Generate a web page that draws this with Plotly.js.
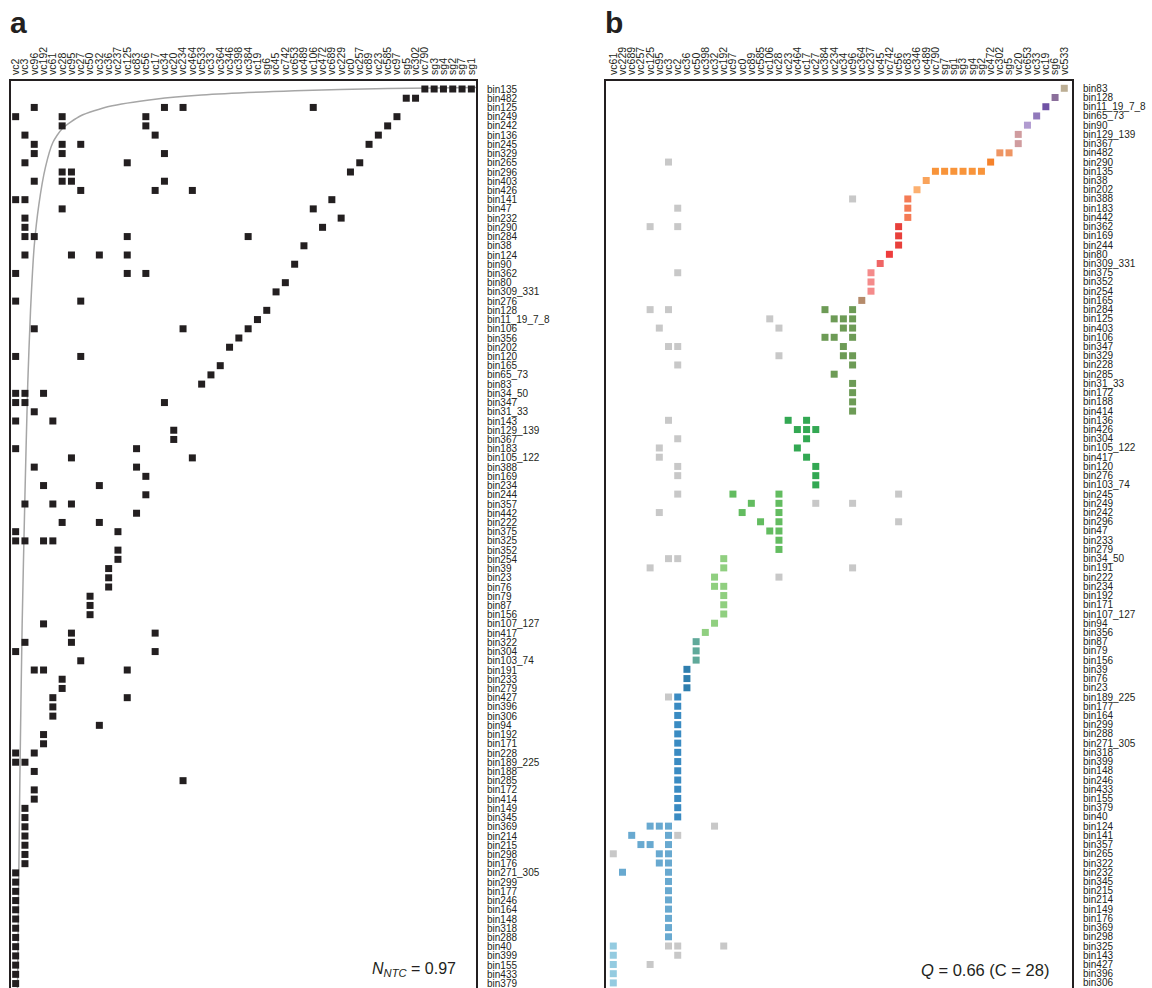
<!DOCTYPE html>
<html>
<head>
<meta charset="utf-8">
<script src="https://cdn.plot.ly/plotly-3.0.1.min.js"></script>
<style>
html,body{margin:0;padding:0;overflow:hidden;background:#fff;}
#chart{width:1152px;height:995px;}
</style>
</head>
<body>
<div id="chart"></div>
<script>
// Panel a: nested ordering (row labels as printed)
const rowsA = ["bin135","bin482","bin125","bin249","bin242","bin136","bin245","bin329","bin265","bin296","bin403","bin426","bin141","bin47","bin232","bin290","bin284","bin38","bin124","bin90","bin362","bin80","bin309_331","bin276","bin128","bin11_19_7_8","bin106","bin356","bin202","bin120","bin165","bin65_73","bin83","bin34_50","bin347","bin31_33","bin143","bin129_139","bin367","bin183","bin105_122","bin388","bin169","bin234","bin244","bin357","bin442","bin222","bin375","bin325","bin352","bin254","bin39","bin23","bin76","bin79","bin87","bin156","bin107_127","bin417","bin322","bin304","bin103_74","bin191","bin233","bin279","bin427","bin396","bin306","bin94","bin192","bin171","bin228","bin189_225","bin188","bin285","bin172","bin414","bin149","bin345","bin369","bin214","bin215","bin298","bin176","bin271_305","bin299","bin177","bin246","bin164","bin148","bin318","bin288","bin40","bin399","bin155","bin433","bin379"];
// Panel a: whose interaction profile is drawn in each row (as seen in the matrix)
const rowContentA = ["bin135","bin482","bin125","bin245","bin296","bin136","bin249","bin329","bin357","bin242","bin403","bin426","bin141","bin47","bin232","bin290","bin284","bin38","bin124","bin90","bin362","bin80","bin309_331","bin276","bin128","bin11_19_7_8","bin106","bin356","bin202","bin120","bin165","bin65_73","bin83","bin34_50","bin347","bin31_33","bin143","bin129_139","bin367","bin183","bin105_122","bin388","bin169","bin234","bin244","bin265","bin442","bin222","bin375","bin325","bin352","bin254","bin39","bin23","bin76","bin79","bin87","bin156","bin107_127","bin417","bin322","bin304","bin103_74","bin191","bin233","bin279","bin427","bin396","bin306","bin94","bin192","bin171","bin228","bin189_225","bin188","bin285","bin172","bin414","bin149","bin345","bin369","bin214","bin215","bin298","bin176","bin271_305","bin299","bin177","bin246","bin164","bin148","bin318","bin288","bin40","bin399","bin155","bin433","bin379"];
const colsA = ["vc2","vc3","vc96","vc192","vc61","vc28","vc95","vc27","vc50","vc32","vc36","vc237","vc125","vc83","vc56","vc17","vc34","vc20","vc234","vc464","vc533","vc33","vc364","vc346","vc398","vc384","vc19","sg6","vc45","vc742","vc653","vc489","vc106","vc472","vc689","vc229","vc0","vc257","vc89","vc23","vc585","vc97","sg5","vc302","vc790","sg3","sg4","sg2","sg7","sg1"];

// Panel b: modular ordering
const rowsB = ["bin83","bin128","bin11_19_7_8","bin65_73","bin90","bin129_139","bin367","bin482","bin290","bin135","bin38","bin202","bin388","bin183","bin442","bin362","bin169","bin244","bin80","bin309_331","bin375","bin352","bin254","bin165","bin284","bin125","bin403","bin106","bin347","bin329","bin228","bin285","bin31_33","bin172","bin188","bin414","bin136","bin426","bin304","bin105_122","bin417","bin120","bin276","bin103_74","bin245","bin249","bin242","bin296","bin47","bin233","bin279","bin34_50","bin191","bin222","bin234","bin192","bin171","bin107_127","bin94","bin356","bin87","bin79","bin156","bin39","bin76","bin23","bin189_225","bin177","bin164","bin299","bin288","bin271_305","bin318","bin399","bin148","bin246","bin433","bin155","bin379","bin40","bin124","bin141","bin357","bin265","bin322","bin232","bin345","bin215","bin214","bin149","bin176","bin369","bin298","bin325","bin143","bin427","bin396","bin306"];
const colsB = ["vc61","vc229","vc689","vc257","vc125","vc95","vc3","vc2","vc36","vc50","vc398","vc32","vc192","vc97","vc0","vc89","vc585","vc106","vc28","vc23","vc464","vc17","vc27","vc384","vc234","vc34","vc96","vc364","vc237","vc45","vc742","vc56","vc83","vc346","vc489","vc790","sg7","sg1","sg3","sg4","sg2","vc472","vc302","sg5","vc20","vc653","vc33","vc19","sg6","vc533"];

// links: [bin, phage, module] ; module -1 = link between modules (grey)
const links = [
["bin83","vc533",0],
["bin128","sg6",1],
["bin11_19_7_8","vc19",2],
["bin65_73","vc33",3],
["bin90","vc653",4],
["bin129_139","vc20",5],["bin367","vc20",5],
["bin482","vc302",6],["bin482","sg5",6],
["bin290","vc3",-1],["bin290","vc472",7],
["bin135","vc790",8],["bin135","sg7",8],["bin135","sg1",8],["bin135","sg3",8],["bin135","sg4",8],["bin135","sg2",8],
["bin38","vc489",9],
["bin202","vc346",10],
["bin388","vc96",-1],["bin388","vc83",11],
["bin183","vc2",-1],["bin183","vc83",11],
["bin442","vc83",11],
["bin362","vc125",-1],["bin362","vc2",-1],["bin362","vc56",12],
["bin169","vc56",12],["bin244","vc56",12],
["bin80","vc742",13],
["bin309_331","vc45",14],
["bin375","vc2",-1],["bin375","vc237",15],
["bin352","vc237",15],["bin254","vc237",15],
["bin165","vc364",16],
["bin284","vc125",-1],["bin284","vc3",-1],["bin284","vc384",17],["bin284","vc96",17],
["bin125","vc106",-1],["bin125","vc234",17],["bin125","vc34",17],["bin125","vc96",17],
["bin403","vc95",-1],["bin403","vc28",-1],["bin403","vc34",17],["bin403","vc96",17],
["bin106","vc384",17],["bin106","vc234",17],["bin106","vc96",17],
["bin347","vc3",-1],["bin347","vc2",-1],["bin347","vc34",17],
["bin329","vc28",-1],["bin329","vc34",17],["bin329","vc96",17],
["bin228","vc2",-1],["bin228","vc96",17],
["bin285","vc234",17],
["bin31_33","vc96",17],["bin172","vc96",17],["bin188","vc96",17],["bin414","vc96",17],
["bin136","vc3",-1],["bin136","vc23",18],["bin136","vc17",18],
["bin426","vc464",18],["bin426","vc17",18],["bin426","vc27",18],
["bin304","vc2",-1],["bin304","vc17",18],
["bin105_122","vc95",-1],["bin105_122","vc464",18],
["bin417","vc95",-1],["bin417","vc17",18],
["bin120","vc2",-1],["bin120","vc27",18],
["bin276","vc2",-1],["bin276","vc27",18],
["bin103_74","vc27",18],
["bin245","vc2",-1],["bin245","vc56",-1],["bin245","vc97",19],["bin245","vc28",19],
["bin249","vc27",-1],["bin249","vc96",-1],["bin249","vc89",19],["bin249","vc28",19],
["bin242","vc95",-1],["bin242","vc0",19],["bin242","vc28",19],
["bin296","vc56",-1],["bin296","vc585",19],["bin296","vc28",19],
["bin47","vc106",19],["bin47","vc28",19],
["bin233","vc28",19],["bin279","vc28",19],
["bin34_50","vc3",-1],["bin34_50","vc2",-1],["bin34_50","vc192",20],
["bin191","vc125",-1],["bin191","vc96",-1],["bin191","vc192",20],
["bin222","vc28",-1],["bin222","vc32",20],
["bin234","vc32",20],["bin234","vc192",20],
["bin192","vc192",20],["bin171","vc192",20],["bin107_127","vc192",20],
["bin94","vc32",20],
["bin356","vc398",20],
["bin87","vc50",21],["bin79","vc50",21],["bin156","vc50",21],
["bin39","vc36",22],["bin76","vc36",22],["bin23","vc36",22],
["bin189_225","vc3",-1],["bin189_225","vc2",23],
["bin177","vc2",23],["bin164","vc2",23],["bin299","vc2",23],["bin288","vc2",23],["bin271_305","vc2",23],["bin318","vc2",23],["bin399","vc2",23],["bin148","vc2",23],["bin246","vc2",23],["bin433","vc2",23],["bin155","vc2",23],["bin379","vc2",23],["bin40","vc2",23],
["bin124","vc125",24],["bin124","vc95",24],["bin124","vc3",24],["bin124","vc32",-1],
["bin141","vc689",24],["bin141","vc3",24],["bin141","vc2",-1],
["bin357","vc257",24],["bin357","vc125",24],["bin357","vc3",24],
["bin265","vc61",-1],["bin265","vc95",24],["bin265","vc3",24],
["bin322","vc95",24],["bin322","vc3",24],
["bin232","vc229",24],["bin232","vc3",24],
["bin345","vc3",24],["bin215","vc3",24],["bin214","vc3",24],["bin149","vc3",24],["bin176","vc3",24],["bin369","vc3",24],["bin298","vc3",24],
["bin325","vc61",25],["bin325","vc3",-1],["bin325","vc2",-1],["bin325","vc192",-1],
["bin143","vc61",25],["bin143","vc2",-1],
["bin427","vc61",25],["bin427","vc125",-1],
["bin396","vc61",25],["bin306","vc61",25]
];

const moduleColors = ["#bcae94","#8b6f9b","#7052a5","#9179bb","#b19bd0","#d09c9f","#ee9563","#f5822b","#f8943a","#f9a35b","#fcb070","#f47b55","#e8403b","#ee3d3d","#ef6565","#f48b8b","#b58b6b","#6d9b56","#33a853","#63bc60","#90cf80","#60a99a","#2f7eae","#3a8bc2","#68a9d0","#94cbe0"];
const greyColor = "#c8c8c8";

// isocline of perfect nestedness (panel a), in column / row units
const curveCol = [49.5, 45, 40, 30, 20, 15, 10, 7, 5, 4, 3.2, 2.5, 2.0, 1.6, 1.3, 1.0, 0.7, 0.45, 0.2];
const curveRow = [-0.15, -0.12, -0.05, 0.2, 0.65, 1.1, 1.9, 2.9, 4.3, 5.8, 8.5, 12.5, 17, 24, 32, 44, 58, 75, 97.5];

const nestLabel = "<i>N</i><sub><i>NTC</i></sub> = 0.97";
const modLabel = "<i>Q</i> = 0.66 (C = 28)";

// ---- build traces ----
const ax = [], ay = [];
links.forEach(l => { ax.push(colsA.indexOf(l[1])); ay.push(rowContentA.indexOf(l[0])); });

const gx = [], gy = [], cx = [], cy = [], cc = [];
links.forEach(l => {
  const x = colsB.indexOf(l[1]), y = rowsB.indexOf(l[0]);
  if (l[2] < 0) { gx.push(x); gy.push(y); }
  else { cx.push(x); cy.push(y); cc.push(moduleColors[l[2]]); }
});

const FONT = "Liberation Sans, Arial, Helvetica, sans-serif";
const W = 1152, H = 995;
const topPx = 81;

const traces = [
  {type:"scatter", mode:"lines", x: curveCol, y: curveRow, xaxis:"x", yaxis:"y",
   line:{color:"#a6a6a6", width:1.5, shape:"spline", smoothing:0.6}, hoverinfo:"skip", showlegend:false},
  {type:"scatter", mode:"markers", x: ax, y: ay, xaxis:"x", yaxis:"y",
   marker:{symbol:"square", size:7, color:"#231f20", line:{width:0}}, showlegend:false},
  {type:"scatter", mode:"markers", x: gx, y: gy, xaxis:"x2", yaxis:"y2",
   marker:{symbol:"square", size:7, color:greyColor, line:{width:0}}, showlegend:false},
  {type:"scatter", mode:"markers", x: cx, y: cy, xaxis:"x2", yaxis:"y2",
   marker:{symbol:"square", size:7, color:cc, line:{width:0}}, showlegend:false}
];

const yDom = [0, 1 - topPx / H];
function xAxis(dom, range, cols, anchor) {
  return {domain: dom, range: range, side:"top", anchor: anchor,
    tickmode:"array", tickvals: cols.map((c,i)=>i), ticktext: cols, tickangle:-90,
    tickfont:{family:FONT, size:10.5, color:"#231f20"}, ticks:"", ticklabelstandoff:2,
    showgrid:false, zeroline:false, showline:true, linecolor:"#231f20", linewidth:2, mirror:true, fixedrange:true};
}
function yAxis(range, rows, anchor) {
  return {domain: yDom, range: range, side:"right", anchor: anchor,
    tickmode:"array", tickvals: rows.map((r,i)=>i), ticktext: rows,
    tickfont:{family:FONT, size:10, color:"#231f20"}, ticks:"", ticklabelstandoff:7,
    showgrid:false, zeroline:false, showline:true, linecolor:"#231f20", linewidth:2, mirror:true, fixedrange:true};
}

const layout = {
  width: W, height: H, margin:{l:0, r:0, t:0, b:0}, paper_bgcolor:"#fff", plot_bgcolor:"#fff",
  showlegend:false,
  xaxis: xAxis([11/W, 476/W], [-0.5, 49.5], colsA, "y"),
  yaxis: yAxis([98.24, -0.8675], rowsA, "x"),
  xaxis2: xAxis([606/W, 1072/W], [-0.793, 49.84], colsB, "y2"),
  yaxis2: yAxis([98.31, -0.79], rowsB, "x2"),
  annotations: [
    {text:"<b>a</b>", xref:"paper", yref:"paper", x:8/W, y:1-4/H, xanchor:"left", yanchor:"top", showarrow:false,
     font:{family:FONT, size:30, color:"#231f20"}},
    {text:"<b>b</b>", xref:"paper", yref:"paper", x:603/W, y:1-4/H, xanchor:"left", yanchor:"top", showarrow:false,
     font:{family:FONT, size:30, color:"#231f20"}},
    {text: nestLabel, xref:"paper", yref:"paper", x:458/W, y:1-981/H, xanchor:"right", yanchor:"bottom", showarrow:false,
     font:{family:FONT, size:16, color:"#231f20"}},
    {text: modLabel, xref:"paper", yref:"paper", x:1051/W, y:1-981/H, xanchor:"right", yanchor:"bottom", showarrow:false,
     font:{family:FONT, size:16.5, color:"#231f20"}}
  ]
};

Plotly.newPlot("chart", traces, layout, {staticPlot:true, displayModeBar:false});
</script>
</body>
</html>
